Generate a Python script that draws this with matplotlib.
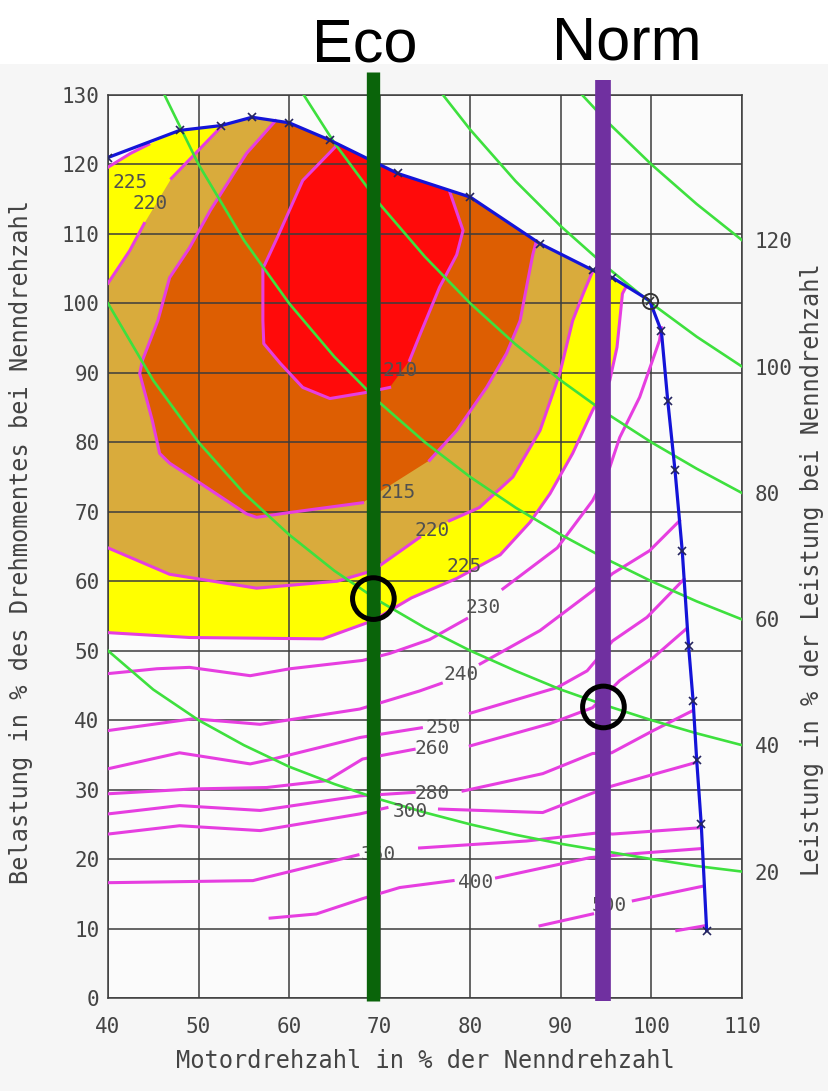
import numpy as np
import matplotlib
matplotlib.use('Agg')
import matplotlib.pyplot as plt
from matplotlib.patches import Rectangle

nan = np.nan

# Volllastkurve (Motordrehzahl %, Belastung %)
fl_x = [40, 47.9, 52.5, 55.9, 60, 64.5, 72, 80, 87.7, 93.5, 95.7, 99.8,
        101.1, 101.8, 102.6, 103.4, 104.1, 104.6, 105, 105.5, 106.1]
fl_y = [121, 124.9, 125.6, 126.8, 126, 123.5, 118.7, 115.3, 108.6, 104.8, 103.7, 100.4,
        96, 86, 76, 64.4, 50.7, 42.8, 34.2, 25, 9.7]
rated_idx = 11  # Nennpunkt (100/100)

# Linien gleichen spez. Verbrauchs, nan = Luecke fuer die Beschriftung
be210_x = [65.3, 61.5, 58.7, 57.1, 57.1, 57.2, 59.0, 61.5, 64.5, 68.6, 71.1, nan, 73.3, 74.6, 76.6, 78.5, 79.2, 77.7]
be210_y = [122.8, 117.7, 109.5, 105.0, 97.5, 94.2, 91.4, 87.9, 86.3, 87.2, 87.9, nan, 91.8, 96.0, 102.3, 107.0, 110.5, 116.2]

be215_x = [58.5, 55.3, 51.3, 49.0, 46.8, 45.5, 43.8, 43.5, 44.9, 45.7, 46.8, 50.2, 55.3, 56.4, 60.1, 68.1, nan,
           75.5, 78.5, 81.8, 84.0, 85.5, 86.2, 86.9, 87.3]
be215_y = [126.3, 121.6, 113.4, 108.0, 103.7, 97.5, 91.8, 89.9, 83.1, 78.4, 77.0, 74.1, 69.7, 69.2, 69.9, 71.3, nan,
           77.4, 81.7, 87.9, 92.8, 97.5, 102.3, 107.0, 109.0]

be220_top_x = [40.0, 42.4, 44.0, nan, 47.0, 52.4]
be220_top_y = [102.9, 107.6, 111.5, nan, 118.0, 125.3]
be220_x = [40.0, 46.8, 56.4, 65.3, 69.2, 74.4, nan, 77.7, 81.0, 84.7, 87.7, 89.9, 91.3, 92.5, 93.5]
be220_y = [64.8, 61.0, 59.0, 60.0, 61.5, 66.3, nan, 68.7, 70.6, 75.0, 81.7, 90.0, 97.5, 101.5, 104.6]

be225_top_x = [40.0, 42.5, 44.5]
be225_top_y = [119.6, 121.6, 122.9]
be225_x = [40.0, 49.0, 63.7, 69.2, 73.5, 78.5, 83.3, 86.6, 88.8, 91.3, 93.5, 95.4, 96.2, 96.8, 97.2]
be225_y = [52.6, 51.9, 51.7, 54.3, 57.6, 60.4, 63.8, 68.5, 72.6, 78.4, 84.6, 88.9, 93.7, 101.4, 102.4]

be230_x = [40, 45.4, 49, 55.7, 60.1, 68.1, 71.1, 75.5, 79.6, nan, 83.6, 89.6, 93.5, 95.4, 96.5, 98.7, 100.9, 101.1]
be230_y = [46.7, 47.4, 47.6, 46.4, 47.4, 48.6, 49.6, 51.6, 54.6, nan, 58.9, 64.8, 71.6, 76.4, 80.7, 86.5, 94.7, 96.5]
be240_x = [40, 49.4, 56.8, 67.8, 74.4, 76.8, nan, 81.1, 87.7, 93.5, 95.7, 99.8, 103.1]
be240_y = [38.5, 40.2, 39.4, 41.6, 44.2, 45.3, nan, 48.1, 52.9, 58.6, 61.1, 64.4, 68.7]
be250_x = [40, 47.9, 55.7, 58.2, 67.8, 74.6, nan, 80, 89.6, 92.9, 95.7, 99.5, 103.6]
be250_y = [33, 35.3, 33.7, 34.4, 37.5, 38.9, nan, 41, 44.7, 47.1, 51.4, 54.8, 60.3]
be260_x = [40, 49.4, 57.5, 64.2, 68.1, 73.8, nan, 80, 88.8, 93.5, 96.5, 100.2, 103.9]
be260_y = [29.4, 30.1, 30.3, 31.3, 34.4, 35.8, nan, 36.3, 39.5, 41.8, 45.7, 49, 53.2]
be280_x = [40, 47.9, 56.8, 67.8, 73.8, nan, 79.2, 88, 93.5, 95.6, 100.2, 104.6]
be280_y = [26.5, 27.7, 27, 29.1, 29.6, nan, 29.8, 32.3, 35.2, 35.3, 38.5, 41.4]
be300_x = [40, 47.9, 56.8, 67.8, 70.8, nan, 76.6, 88, 93.5, 95.6, 104.9]
be300_y = [23.6, 24.8, 24.1, 26.5, 27.4, nan, 27.2, 26.7, 29.5, 30.5, 33.9]
be350_x = [40, 56, 67.6, nan, 74.4, 86.2, 94.3, 95.7, 105.3]
be350_y = [16.6, 16.9, 20.6, nan, 21.6, 22.6, 23.8, 23.6, 24.5]
be400_x = [57.9, 63, 68.1, 72.2, 78.1, nan, 82.9, 93.2, 97.3, 105.4]
be400_y = [11.5, 12.1, 14.3, 15.9, 16.9, nan, 17.3, 20.2, 20.7, 21.5]
be500_x = [87.7, 93.5, nan, 98, 105.7]
be500_y = [10.4, 12.1, nan, 14, 16.1]
be600_x = [102.8, 105.9]
be600_y = [9.7, 10.4]

# Beschriftungen der Linien
be_labels = ['225', '220', '210', '215', '220', '225', '230', '240', '250', '260', '280', '300', '350', '400', '500']
be_label_x = [42.4, 44.6, 72.2, 72.0, 75.8, 79.3, 81.4, 79.0, 77.0, 75.8, 75.8, 73.4, 69.9, 80.6, 95.3]
be_label_y = [117.4, 114.4, 90.3, 72.8, 67.3, 62.1, 56.2, 46.6, 38.9, 35.9, 29.5, 26.9, 20.7, 16.6, 13.3]

# Linien gleicher Leistung, Leistung in % der Nennleistung
power_x = [40, 45, 50, 55, 60, 65, 70, 75, 80, 85, 90, 95, 100, 105, 110]
power_20 = [50.0, 44.4, 40.0, 36.4, 33.3, 30.8, 28.6, 26.7, 25.0, 23.5, 22.2, 21.1, 20.0, 19.0, 18.2]
power_40 = [100.0, 88.9, 80.0, 72.7, 66.7, 61.5, 57.1, 53.3, 50.0, 47.1, 44.4, 42.1, 40.0, 38.1, 36.4]
power_60 = [150.0, 133.3, 120.0, 109.1, 100.0, 92.3, 85.7, 80.0, 75.0, 70.6, 66.7, 63.2, 60.0, 57.1, 54.5]
power_80 = [200.0, 177.8, 160.0, 145.5, 133.3, 123.1, 114.3, 106.7, 100.0, 94.1, 88.9, 84.2, 80.0, 76.2, 72.7]
power_100 = [250.0, 222.2, 200.0, 181.8, 166.7, 153.8, 142.9, 133.3, 125.0, 117.6, 111.1, 105.3, 100.0, 95.2, 90.9]
power_120 = [300.0, 266.7, 240.0, 218.2, 200.0, 184.6, 171.4, 160.0, 150.0, 141.2, 133.3, 126.3, 120.0, 114.3, 109.1]

# Betriebsarten
modes = ['Eco', 'Norm']
mode_x = [69.3, 94.7]
mode_point_y = [57.5, 41.9]
mode_colors = ['#0a640a', '#7030a0']


def clean(xs, ys):
    pts = [(x, y) for x, y in zip(xs, ys) if not np.isnan(x)]
    return [p[0] for p in pts], [p[1] for p in pts]


def fl_back(x0, x1):
    # Punkte der Volllastkurve zwischen x0 und x1, rueckwaerts
    pts = [(x, y) for x, y in zip(fl_x, fl_y) if x0 < x < x1]
    pts.reverse()
    return [p[0] for p in pts], [p[1] for p in pts]


def region(low_x, low_y, top_x=None, top_y=None):
    lx, ly = clean(low_x, low_y)
    if top_x is None:
        bx, by = fl_back(lx[0], lx[-1])
        return lx + bx, ly + by
    tx, ty = clean(top_x, top_y)
    bx, by = fl_back(tx[-1], lx[-1])
    return lx + bx + tx[::-1], ly + by + ty[::-1]


fig = plt.figure(figsize=(8.29, 10.91), dpi=100, facecolor='white')
fig.patches.append(Rectangle((0, 0), 1, 1 - 64 / 1091, transform=fig.transFigure,
                             facecolor='#f6f6f6', edgecolor='none', zorder=-1))
ax = fig.add_axes([108 / 829, 93 / 1091, 634 / 829, 903 / 1091])
ax.set_facecolor('#fbfbfb')

# Flaechen
px, py = region(be225_x, be225_y, be225_top_x, be225_top_y)
ax.fill(px, py, color='#ffff00', lw=0, zorder=1)
px, py = region(be220_x, be220_y, be220_top_x, be220_top_y)
ax.fill(px, py, color='#d9ab3c', lw=0, zorder=1)
px, py = region(be215_x, be215_y)
ax.fill(px, py, color='#dd5e02', lw=0, zorder=1)
px, py = region(be210_x, be210_y)
ax.fill(px, py, color='#ff0a0a', lw=0, zorder=1)

pink = '#e63ee0'
for xs, ys in [(be210_x, be210_y), (be215_x, be215_y), (be220_top_x, be220_top_y),
               (be220_x, be220_y), (be225_top_x, be225_top_y), (be225_x, be225_y),
               (be230_x, be230_y), (be240_x, be240_y), (be250_x, be250_y),
               (be260_x, be260_y), (be280_x, be280_y), (be300_x, be300_y),
               (be350_x, be350_y), (be400_x, be400_y), (be500_x, be500_y),
               (be600_x, be600_y)]:
    ax.plot(xs, ys, color=pink, lw=2.2, zorder=3)

for t, x, y in zip(be_labels, be_label_x, be_label_y):
    ax.text(x, y, t, fontsize=14, family='DejaVu Sans Mono', color='#505050',
            ha='center', va='center', zorder=5)

for ys in [power_20, power_40, power_60, power_80, power_100, power_120]:
    ax.plot(power_x, ys, color='#3ee03e', lw=1.9, zorder=3.5)

marks = [i for i in range(len(fl_x)) if i != rated_idx]
ax.plot(fl_x, fl_y, color='#1414d8', lw=2.3, zorder=4,
        marker='x', ms=6, mew=1.2, mec='#25255e', markevery=marks)
ax.plot(fl_x[rated_idx], fl_y[rated_idx], marker='o', ms=11, mfc='none',
        mec='#333333', mew=1.4, zorder=4.5)
ax.plot(fl_x[rated_idx], fl_y[rated_idx], marker='x', ms=6, mec='#333333', mew=1.2, zorder=4.5)

# Betriebsarten-Balken
tops = [1.0254, 1.0166]
widths = [9.6, 11.3]
for x, c, top, w in zip(mode_x, mode_colors, tops, widths):
    ax.axvline(x, ymin=-0.003, ymax=top, color=c, lw=w, solid_capstyle='butt',
               clip_on=False, zorder=6)
ax.scatter(mode_x, mode_point_y, s=900, facecolors='none', edgecolors='black',
           linewidths=3.6, zorder=7)

fig.text(365 / 829, 1 - 62 / 1091, modes[0], fontsize=44, family='Liberation Sans',
         ha='center', va='baseline', color='black')
fig.text(627 / 829, 1 - 60 / 1091, modes[1], fontsize=44, family='Liberation Sans',
         ha='center', va='baseline', color='black')

ax.set_xlim(40, 110)
ax.set_ylim(0, 130)
ax.set_xticks(range(40, 111, 10))
ax.set_yticks(range(0, 131, 10))
ax.set_axisbelow(False)
ax.grid(True, color='#3c3c3c', lw=1.1)
for s in ax.spines.values():
    s.set_color('#3c3c3c')
    s.set_linewidth(1.1)
ax.tick_params(axis='x', length=0, pad=14, labelsize=15, labelcolor='#444444')
ax.tick_params(axis='y', length=0, pad=6, labelsize=15, labelcolor='#444444')
for lab in ax.get_xticklabels() + ax.get_yticklabels():
    lab.set_family('DejaVu Sans Mono')

ax2 = ax.twinx()
ax2.set_ylim(0, 143)
ax2.set_yticks(range(20, 121, 20))
ax2.tick_params(axis='y', length=0, pad=9, labelsize=15, labelcolor='#444444')
for lab in ax2.get_yticklabels():
    lab.set_family('DejaVu Sans Mono')
for s in ax2.spines.values():
    s.set_visible(False)

lab_font = dict(fontsize=17, family='DejaVu Sans Mono', color='#444444')
ax.set_xlabel('Motordrehzahl in % der Nenndrehzahl', **lab_font)
ax.xaxis.set_label_coords(0.5, -0.057)
ax.set_ylabel('Belastung in % des Drehmomentes bei Nenndrehzahl', **lab_font)
ax.yaxis.set_label_coords(-0.118, 0.505)
ax2.set_ylabel('Leistung in % der Leistung bei Nenndrehzahl', **lab_font)
ax2.yaxis.set_label_coords(1.092, 0.474)

fig.savefig('out.png', dpi=100, facecolor=fig.get_facecolor())
